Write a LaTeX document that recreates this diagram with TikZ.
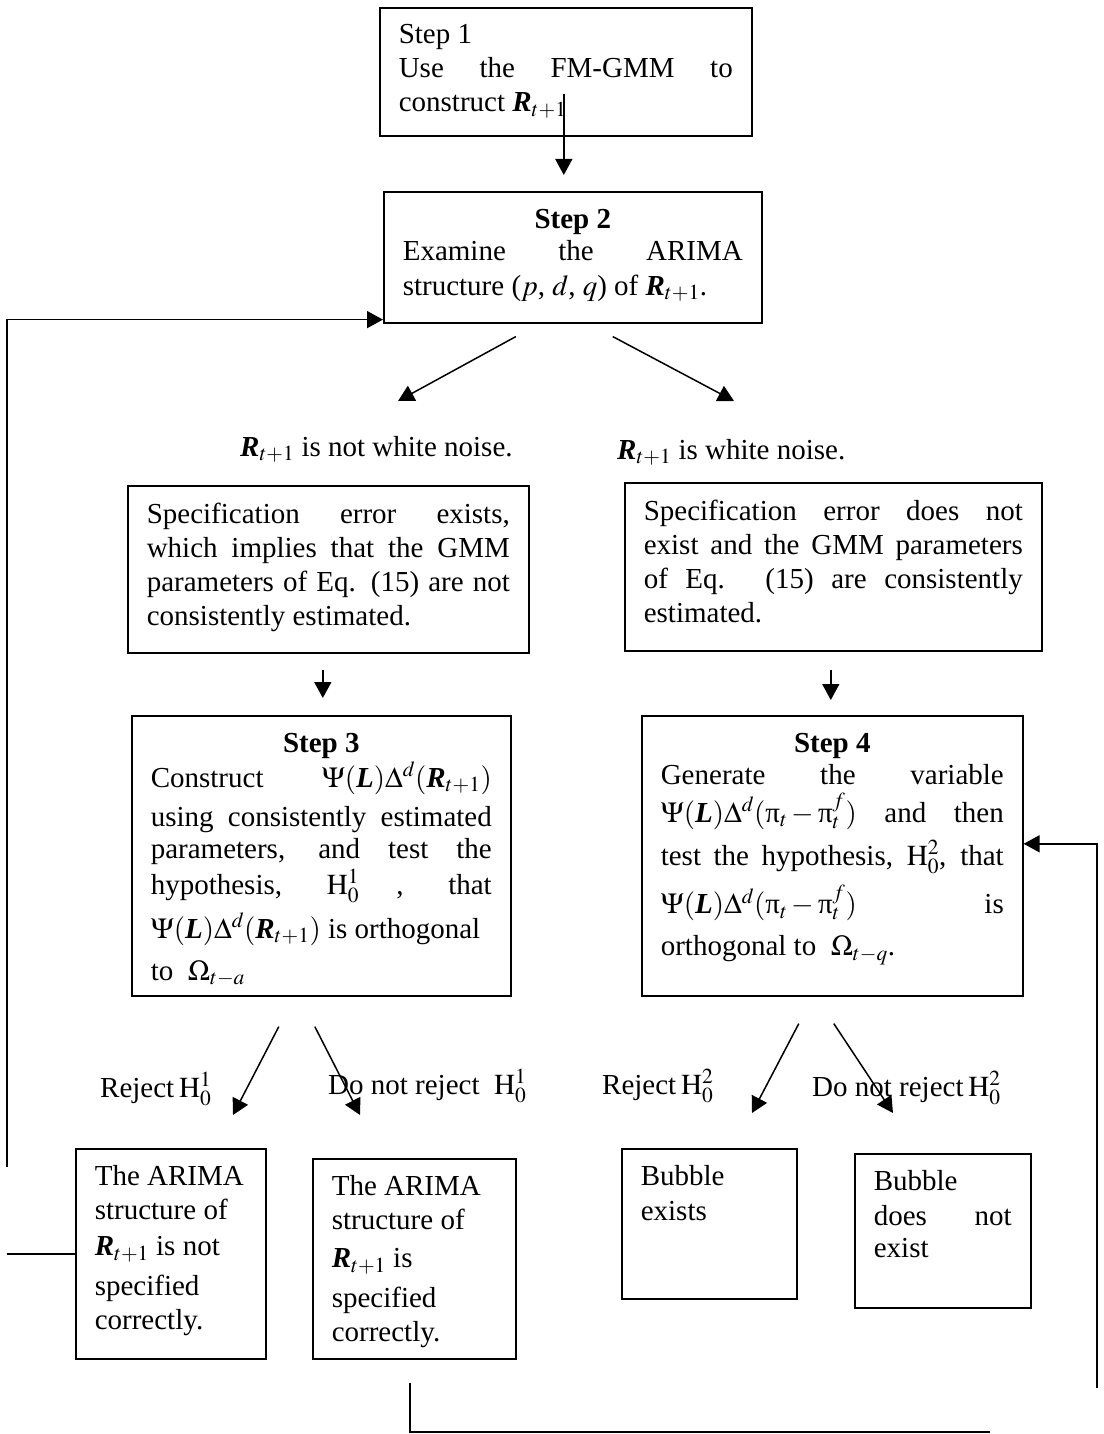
\documentclass[tikz,border=0pt]{standalone}
\usepackage{mathptmx}
\usepackage[no-math]{fontspec}
\setmainfont{Liberation Serif}
\usetikzlibrary{arrows.meta}

\newcommand{\bR}{\textbf{\textit{R}}}
\newcommand{\bL}{\textbf{\textit{L}}}
\newcommand{\Rt}{$\bR_{t+1}$}
\newcommand{\upi}{\mbox{π}}
\newcommand{\jl}[1]{\makebox[\linewidth][s]{#1}}
\newcommand{\cl}[1]{\makebox[\linewidth]{#1}}
\newcommand{\boxtext}[3]{\parbox[c][#2][t]{#1}{#3}}

\tikzset{
  stepbox/.style={draw, line width=1.6pt, anchor=north west, inner xsep=19pt, inner ysep=17pt, font=\fontsize{29}{34}\selectfont},
  lbl/.style={anchor=base west, inner sep=0pt, font=\fontsize{29}{34}\selectfont},
  arr/.style={line width=1.5pt, -{Triangle[length=16pt,width=17pt]}},
  conn/.style={line width=1.5pt}
}

\begin{document}
\begin{tikzpicture}[x=1pt,y=-1pt]
\useasboundingbox (0,0) rectangle (1103,1434);

% Step boxes
\node[stepbox] (step1) at (379,7) {\boxtext{334pt}{94pt}{Step 1\\
  \jl{Use the FM-GMM to}\\
  construct \Rt}};
\node[stepbox] (step2) at (383,191) {\boxtext{340pt}{97pt}{\cl{\textbf{Step 2}}\\[-2pt]
  \jl{Examine the ARIMA}\\[1pt]
  structure ($p$, $d$, $q$) of \Rt.}};

% Specification error boxes
\node[stepbox] (specA) at (127,485) {\boxtext{363pt}{133pt}{\jl{Specification error exists,}\\
  \jl{which implies that the GMM}\\
  \jl{parameters of Eq. (15) are not}\\
  consistently estimated.}};
\node[stepbox] (specB) at (624,482) {\boxtext{379pt}{134pt}{\jl{Specification error does not}\\
  \jl{exist and the GMM parameters}\\
  \jl{of Eq. (15) are consistently}\\
  estimated.}};

% Step 3 and Step 4
\node[stepbox] (step3) at (131,715) {\boxtext{341pt}{246pt}{\cl{\textbf{Step 3}}\\[1pt]
  \jl{Construct \mbox{$\Psi(\bL)\Delta^{d}(\bR_{t+1})$}}\\[5pt]
  \jl{using consistently estimated}\\[-2pt]
  \jl{parameters, and test the}\\[2pt]
  \jl{hypothesis, \mbox{$\mathrm{H}^{1}_{0}$} , that}\\[9pt]
  $\Psi(\bL)\Delta^{d}(\bR_{t+1})$ is orthogonal\\[8pt]
  to \ $\Omega_{t-a}$}};
\node[stepbox] (step4) at (641,715) {\boxtext{343pt}{246pt}{\cl{\textbf{Step 4}}\\[-2pt]
  \jl{Generate the variable}\\[4pt]
  \jl{\mbox{$\Psi(\bL)\Delta^{d}(\upi_{t}-\upi^{f}_{t})$} and then}\\[9pt]
  \jl{test the hypothesis, \mbox{$\mathrm{H}^{2}_{0}$}, that}\\[10pt]
  $\Psi(\bL)\Delta^{d}(\upi_{t}-\upi^{f}_{t})$\hfill is\\[8pt]
  orthogonal to \ $\Omega_{t-q}$.}};

% Outcome boxes
\node[stepbox] (out1) at (75,1148) {\boxtext{152pt}{176pt}{The ARIMA\\
  structure of\\[2pt]
  \Rt{} is not\\[6pt]
  specified\\
  correctly.}};
\node[stepbox] (out2) at (312,1158) {\boxtext{165pt}{166pt}{The ARIMA\\
  structure of\\[4pt]
  \Rt{} is\\[6pt]
  specified\\
  correctly.}};
\node[stepbox] (out3) at (621,1148) {\boxtext{137pt}{116pt}{Bubble\\[1pt]
  exists}};
\node[stepbox] (out4) at (854,1153) {\boxtext{138pt}{120pt}{Bubble\\[1pt]
  \jl{does not}\\[-2pt]
  exist}};

% Text Node
\node[lbl] (notwn) at (240,456) {\Rt{} is not white noise.};
\node[lbl] (wn) at (617,459) {\Rt{} is white noise.};
\node[lbl] (rej1) at (100,1097) {Reject\,$\mathrm{H}^{1}_{0}$};
\node[lbl] (norej1) at (328,1094) {Do not reject \ $\mathrm{H}^{1}_{0}$};
\node[lbl] (rej2) at (602,1094) {Reject\,$\mathrm{H}^{2}_{0}$};
\node[lbl] (norej2) at (812,1096) {Do not reject\,$\mathrm{H}^{2}_{0}$};

% free arrow ends
\coordinate (tipA) at (398,401);
\coordinate (tipB) at (734,401);
\coordinate (tipC) at (233,1115);
\coordinate (tipD) at (360,1115);
\coordinate (tipE) at (752,1113);
\coordinate (tipF) at (893,1113);
\coordinate (loopL) at (7,1167);
\coordinate (loopR) at (1097,1388);
\coordinate (endS) at (410,1383);
\coordinate (endE) at (990,1432);

% Connectors
\draw[arr] ([xshift=-2pt,yshift=43pt]step1.south) -- ([xshift=-9pt,yshift=16pt]step2.north);
\draw[arr] ([xshift=-57pt,yshift=-13pt]step2.south) -- (tipA);
\draw[arr] ([xshift=40pt,yshift=-13pt]step2.south) -- (tipB);
\draw[arr] ([xshift=-5.5pt,yshift=-16pt]specA.south) -- ([xshift=1.5pt,yshift=17pt]step3.north);
\draw[arr] ([xshift=-2.5pt,yshift=-18pt]specB.south) -- ([xshift=-1.5pt,yshift=15pt]step4.north);
\draw[arr] ([xshift=-42.5pt,yshift=-30pt]step3.south) -- (tipC);
\draw[arr] ([xshift=-6.5pt,yshift=-30pt]step3.south) -- (tipD);
\draw[arr] ([xshift=-33.5pt,yshift=-27pt]step4.south) -- (tipE);
\draw[arr] ([xshift=1.5pt,yshift=-27pt]step4.south) -- (tipF);

% feedback lines
\draw[arr] (loopL) |- ([yshift=4pt]step2.south west);
\draw[conn] (out1.west) -- ++(-68,0);
\draw[arr] (loopR) |- ([yshift=12pt]step4.east);
\draw[conn] (endS) |- (endE);

\end{tikzpicture}
\end{document}
